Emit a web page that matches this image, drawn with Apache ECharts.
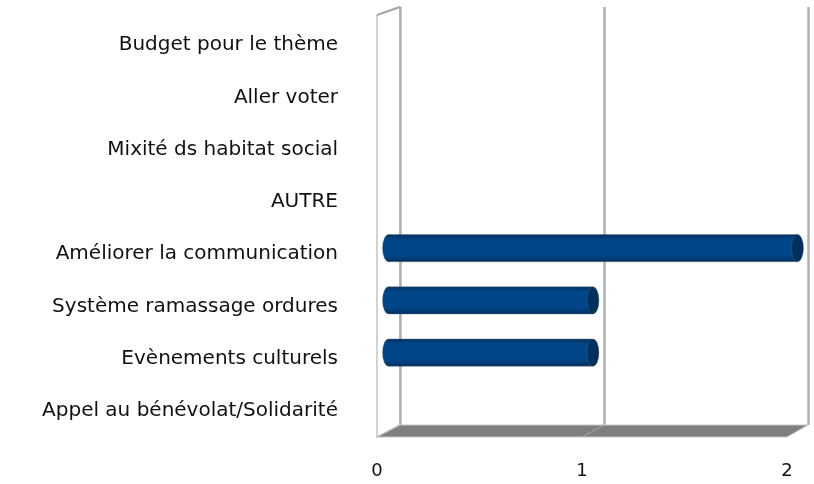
<!DOCTYPE html>
<html>
<head>
<meta charset="utf-8">
<script src="https://cdn.jsdelivr.net/npm/echarts@6/dist/echarts.min.js"></script>
<style>html,body{margin:0;padding:0;background:#fff}#c{width:814px;height:484px}</style>
</head>
<body>
<div id="c"></div>
<script>
// ---- data ----
const categories = ['Budget pour le thème', 'Aller voter', 'Mixité ds habitat social', 'AUTRE',
  'Améliorer la communication', 'Système ramassage ordures', 'Evènements culturels', 'Appel au bénévolat/Solidarité'];
const values = [0, 0, 0, 0, 2, 1, 1, 0];
const xTicks = [0, 1, 2];

// ---- layout (3D box planes) ----
const W = 814, H = 484;
const front = { left: 377, top: 19, right: 27, bottom: 47 };
const back = { left: 400, top: 7, right: 6, bottom: 59 };
const mid = { left: (front.left + back.left) / 2, top: (front.top + back.top) / 2,
  right: (front.right + back.right) / 2, bottom: (front.bottom + back.bottom) / 2 };
const fx0 = front.left, fx1 = W - front.right, fy0 = front.top, fy1 = H - front.bottom;
const bx0 = back.left, bx1 = W - back.right, by0 = back.top, by1 = H - back.bottom;

const font = 'DejaVu Sans, Liberation Sans, Arial, sans-serif';
const xMin = xTicks[0], xMax = xTicks[xTicks.length - 1];

const barFill = new echarts.graphic.LinearGradient(0, 0, 0, 1, [
  { offset: 0, color: '#003466' },
  { offset: 0.18, color: '#00478a' },
  { offset: 0.8, color: '#004586' },
  { offset: 1, color: '#003264' }
]);

function renderBar(params, api) {
  const v = api.value(0);
  const cat = api.value(1);
  if (!v) return null;
  const s = api.coord([0, cat]);
  const e = api.coord([v, cat]);
  const band = api.size([0, 1])[1];
  const h = band * 0.52;
  const r = h / 2;
  const rx = 6;
  return {
    type: 'group',
    children: [
      { type: 'circle', x: s[0], y: s[1], scaleX: rx / r, scaleY: 1, shape: { cx: 0, cy: 0, r: r },
        style: { fill: barFill, stroke: 'rgba(110,110,110,0.45)', lineWidth: 1 } },
      { type: 'rect', shape: { x: s[0], y: s[1] - r, width: e[0] - s[0], height: h },
        style: { fill: barFill, stroke: 'rgba(110,110,110,0.45)', lineWidth: 1 } },
      { type: 'rect', shape: { x: s[0] - 0.5, y: s[1] - r + 0.8, width: e[0] - s[0] + 1, height: h - 1.6 },
        style: { fill: barFill } },
      { type: 'circle', x: e[0], y: e[1], scaleX: rx / r, scaleY: 1, shape: { cx: 0, cy: 0, r: r },
        style: { fill: '#00305d', stroke: 'rgba(110,110,110,0.45)', lineWidth: 1 } }
    ]
  };
}

const chart = echarts.init(document.getElementById('c'), null, { renderer: 'canvas' });
chart.setOption({
  animation: false,
  backgroundColor: '#ffffff',
  grid: [
    Object.assign({ containLabel: false }, mid),
    Object.assign({ containLabel: false }, front),
    Object.assign({ containLabel: false }, back)
  ],
  xAxis: [
    { gridIndex: 0, type: 'value', min: xMin, max: xMax, interval: 1, show: false },
    { gridIndex: 1, type: 'value', min: xMin, max: xMax, interval: 1,
      axisLine: { show: false }, axisTick: { show: false }, splitLine: { show: false },
      axisLabel: { margin: 25, fontSize: 18, color: '#111', fontFamily: font } },
    { gridIndex: 2, type: 'value', min: xMin, max: xMax, interval: 1,
      axisLine: { show: false }, axisTick: { show: false }, axisLabel: { show: false },
      splitLine: { show: true, lineStyle: { color: '#b0b0b0', width: 2.5 } } }
  ],
  yAxis: [
    { gridIndex: 0, type: 'category', data: categories, inverse: true, show: false },
    { gridIndex: 1, type: 'category', data: categories, inverse: true,
      axisLine: { show: false }, axisTick: { show: false }, splitLine: { show: false },
      axisLabel: { margin: 39, fontSize: 20, color: '#111', fontFamily: font } },
    { gridIndex: 2, type: 'category', data: categories, inverse: true, show: false }
  ],
  graphic: [
    { type: 'polygon', z: -5, silent: true,
      shape: { points: [[fx0, fy0 - 4], [bx0, by0], [bx0, by1], [fx0, fy1]] },
      style: { fill: '#ffffff', stroke: '#c4c4c4', lineWidth: 1.5 } },
    { type: 'line', z: -4, silent: true, shape: { x1: fx0, y1: fy0 - 4, x2: bx0, y2: by0 },
      style: { stroke: '#a8a8a8', lineWidth: 2 } },
    { type: 'polygon', z: 5, silent: true,
      shape: { points: [[bx0, by1], [bx1, by1], [fx1, fy1], [fx0, fy1]] },
      style: { fill: '#7f7f7f', stroke: '#c8c8c8', lineWidth: 1 } },
    { type: 'line', z: 6, silent: true,
      shape: { x1: (bx0 + bx1) / 2, y1: by1, x2: (fx0 + fx1) / 2, y2: fy1 },
      style: { stroke: 'rgba(190,190,190,0.6)', lineWidth: 1 } }
  ],
  series: [{
    type: 'custom',
    xAxisIndex: 0, yAxisIndex: 0,
    z: 10,
    renderItem: renderBar,
    data: values.map((v, i) => [v, i])
  }]
});
</script>
</body>
</html>
